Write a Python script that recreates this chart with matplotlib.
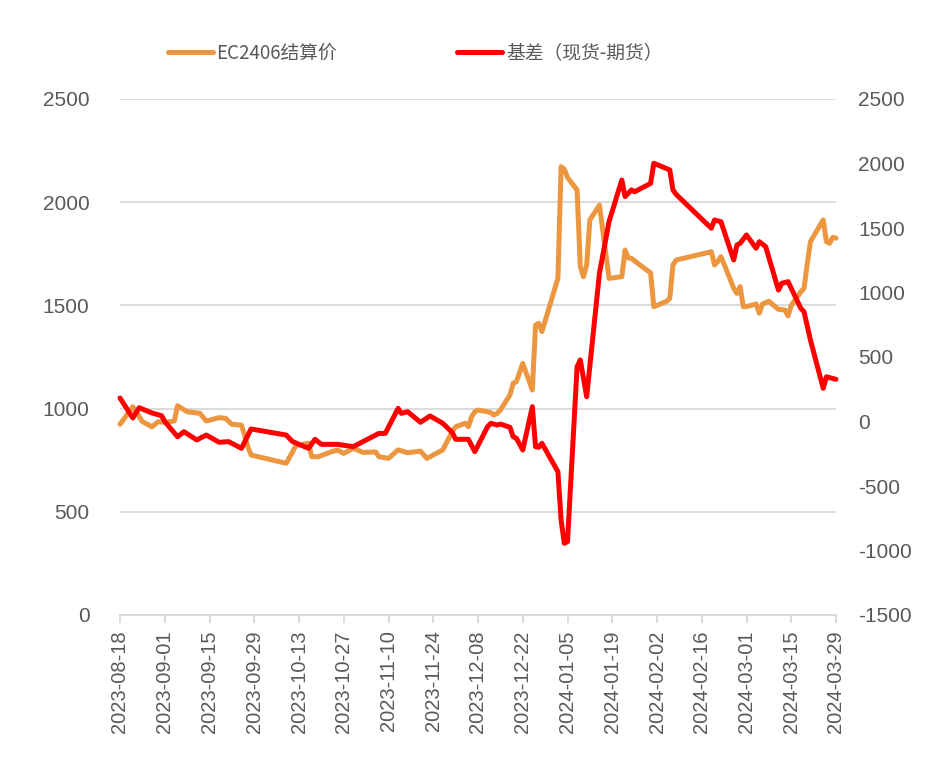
import matplotlib
matplotlib.use("Agg")
import matplotlib.pyplot as plt
import matplotlib.dates as mdates
import pandas as pd

plt.rcParams['font.family'] = ['Liberation Sans', 'Noto Sans CJK SC', 'DejaVu Sans']
plt.rcParams['axes.unicode_minus'] = False

# EC2406 settlement price (left axis)
price_dates = [
    "2023-08-18", "2023-08-22", "2023-08-25", "2023-08-28", "2023-08-30", "2023-09-01",
    "2023-09-04", "2023-09-05", "2023-09-08", "2023-09-12", "2023-09-14", "2023-09-18",
    "2023-09-20", "2023-09-22", "2023-09-25", "2023-09-26", "2023-09-27", "2023-09-28",
    "2023-10-09", "2023-10-11", "2023-10-12", "2023-10-13", "2023-10-16", "2023-10-17",
    "2023-10-19", "2023-10-23", "2023-10-25", "2023-10-27", "2023-10-30", "2023-11-02",
    "2023-11-06", "2023-11-07", "2023-11-10", "2023-11-13", "2023-11-16", "2023-11-20",
    "2023-11-22", "2023-11-24", "2023-11-27", "2023-11-28", "2023-11-29", "2023-11-30",
    "2023-12-01", "2023-12-04", "2023-12-05", "2023-12-06", "2023-12-07", "2023-12-08",
    "2023-12-11", "2023-12-12", "2023-12-13", "2023-12-14", "2023-12-15", "2023-12-18",
    "2023-12-19", "2023-12-20", "2023-12-22", "2023-12-25", "2023-12-26", "2023-12-27",
    "2023-12-28", "2024-01-02", "2024-01-03", "2024-01-04", "2024-01-05", "2024-01-08",
    "2024-01-09", "2024-01-10", "2024-01-11", "2024-01-12", "2024-01-15", "2024-01-18",
    "2024-01-22", "2024-01-23", "2024-01-24", "2024-01-25", "2024-01-29", "2024-01-31",
    "2024-02-01", "2024-02-02", "2024-02-05", "2024-02-06", "2024-02-07", "2024-02-08",
    "2024-02-19", "2024-02-20", "2024-02-21", "2024-02-22", "2024-02-23", "2024-02-26",
    "2024-02-27", "2024-02-28", "2024-02-29", "2024-03-01", "2024-03-04", "2024-03-05",
    "2024-03-06", "2024-03-08", "2024-03-11", "2024-03-13", "2024-03-14", "2024-03-15",
    "2024-03-18", "2024-03-19", "2024-03-20", "2024-03-21", "2024-03-25", "2024-03-26",
    "2024-03-27", "2024-03-28", "2024-03-29",
]
price_values = [
    924, 1009, 937, 912, 937, 933,
    940, 1014, 985, 977, 940, 956,
    953, 924, 920, 870, 815, 775,
    735, 791, 820, 824, 832, 767,
    767, 790, 799, 783, 808, 788,
    790, 767, 759, 800, 786, 794,
    759, 775, 800, 830, 860, 890,
    912, 929, 912, 960, 985, 993,
    985, 980, 969, 977, 993, 1066,
    1123, 1130, 1219, 1090, 1405, 1413,
    1373, 1631, 2172, 2160, 2120, 2059,
    1688, 1639, 1696, 1914, 1986, 1631,
    1639, 1768, 1730, 1728, 1680, 1658,
    1494, 1500, 1520, 1534, 1696, 1720,
    1760, 1696, 1712, 1736, 1700, 1583,
    1558, 1591, 1494, 1494, 1507, 1462,
    1507, 1520, 1481, 1478, 1449, 1500,
    1566, 1583, 1700, 1809, 1914, 1809,
    1801, 1830, 1826,
]

# basis = spot - futures (right axis)
basis_dates = [
    "2023-08-18", "2023-08-22", "2023-08-24", "2023-08-28", "2023-08-31", "2023-09-01",
    "2023-09-05", "2023-09-07", "2023-09-11", "2023-09-14", "2023-09-18", "2023-09-21",
    "2023-09-25", "2023-09-28", "2023-10-09", "2023-10-11", "2023-10-16", "2023-10-18",
    "2023-10-20", "2023-10-25", "2023-10-30", "2023-11-02", "2023-11-07", "2023-11-09",
    "2023-11-13", "2023-11-14", "2023-11-16", "2023-11-20", "2023-11-23", "2023-11-27",
    "2023-11-30", "2023-12-01", "2023-12-05", "2023-12-07", "2023-12-11", "2023-12-12",
    "2023-12-14", "2023-12-15", "2023-12-18", "2023-12-19", "2023-12-20", "2023-12-22",
    "2023-12-25", "2023-12-26", "2023-12-27", "2023-12-28", "2024-01-02", "2024-01-03",
    "2024-01-04", "2024-01-05", "2024-01-08", "2024-01-09", "2024-01-11", "2024-01-15",
    "2024-01-18", "2024-01-22", "2024-01-23", "2024-01-25", "2024-01-26", "2024-01-30",
    "2024-01-31", "2024-02-01", "2024-02-06", "2024-02-07", "2024-02-08", "2024-02-19",
    "2024-02-20", "2024-02-22", "2024-02-26", "2024-02-27", "2024-02-28", "2024-03-01",
    "2024-03-04", "2024-03-05", "2024-03-07", "2024-03-11", "2024-03-12", "2024-03-14",
    "2024-03-18", "2024-03-19", "2024-03-21", "2024-03-25", "2024-03-26", "2024-03-27",
    "2024-03-29",
]
basis_values = [
    182, 27, 107, 66, 45, 0,
    -118, -79, -143, -105, -161, -156,
    -208, -58, -105, -156, -208, -138,
    -177, -177, -195, -156, -92, -92,
    102, 63, 76, -6, 43, -14,
    -87, -138, -138, -234, -40, -14,
    -27, -20, -45, -118, -130, -221,
    115, -195, -200, -169, -389, -764,
    -944, -932, 425, 477, 192, 1151,
    1550, 1872, 1743, 1795, 1781, 1833,
    1846, 2002, 1950, 1795, 1760, 1498,
    1562, 1549, 1252, 1368, 1381, 1446,
    1343, 1394, 1355, 1019, 1071, 1084,
    877, 851, 632, 257, 347, 340,
    327,
]

left_ticks = [0, 500, 1000, 1500, 2000, 2500]
right_ticks = [-1500, -1000, -500, 0, 500, 1000, 1500, 2000, 2500]

ORANGE = "#ED9640"
RED = "#FF0000"
TXT = "#595959"
GRID = "#D9D9D9"

fig = plt.figure(figsize=(9.39, 7.78), dpi=100)
ax = fig.add_axes([120 / 939, 1 - 615 / 778, 716 / 939, 516 / 778])
ax2 = ax.twinx()

ax.plot(pd.to_datetime(price_dates), price_values, color=ORANGE, lw=3.6,
        solid_joinstyle="round", solid_capstyle="round", clip_on=False,
        label="EC2406结算价")
ax2.plot(pd.to_datetime(basis_dates), basis_values, color=RED, lw=3.6,
         solid_joinstyle="round", solid_capstyle="round", clip_on=False,
         label="基差（现货-期货）")

ax.set_ylim(0, 2500)
ax2.set_ylim(-1500, 2500)
ax.set_yticks(left_ticks)
ax2.set_yticks(right_ticks)
ax.set_xlim(pd.Timestamp("2023-08-18"), pd.Timestamp("2024-03-29"))
ax.set_xticks(pd.date_range("2023-08-18", "2024-03-29", freq="14D"))
ax.xaxis.set_major_formatter(mdates.DateFormatter("%Y-%m-%d"))

ax.grid(axis="y", color=GRID, lw=1.3)
ax.set_axisbelow(True)
for a in (ax, ax2):
    for side in ("top", "left", "right"):
        a.spines[side].set_visible(False)
    a.spines["bottom"].set_color(GRID)
    a.spines["bottom"].set_linewidth(1.3)

ax.tick_params(axis="y", length=0, pad=22, labelsize=15, labelcolor=TXT)
ax2.tick_params(axis="y", length=0, pad=16, labelsize=15, labelcolor=TXT)
ax.tick_params(axis="x", length=6, width=1.3, color=GRID, pad=5,
               labelsize=14.5, labelcolor=TXT, labelrotation=90)

h1, l1 = ax.get_legend_handles_labels()
h2, l2 = ax2.get_legend_handles_labels()
fig.legend(h1 + h2, l1 + l2, loc="center", bbox_to_anchor=(415 / 939, 1 - 53 / 778),
           ncol=2, frameon=False, handlelength=2.4, handletextpad=0.2,
           columnspacing=6.4, labelcolor=TXT,
           prop={"family": ["Noto Sans CJK SC", "DejaVu Sans"], "size": 13.5})

fig.savefig("out.png", dpi=100, facecolor="white")
